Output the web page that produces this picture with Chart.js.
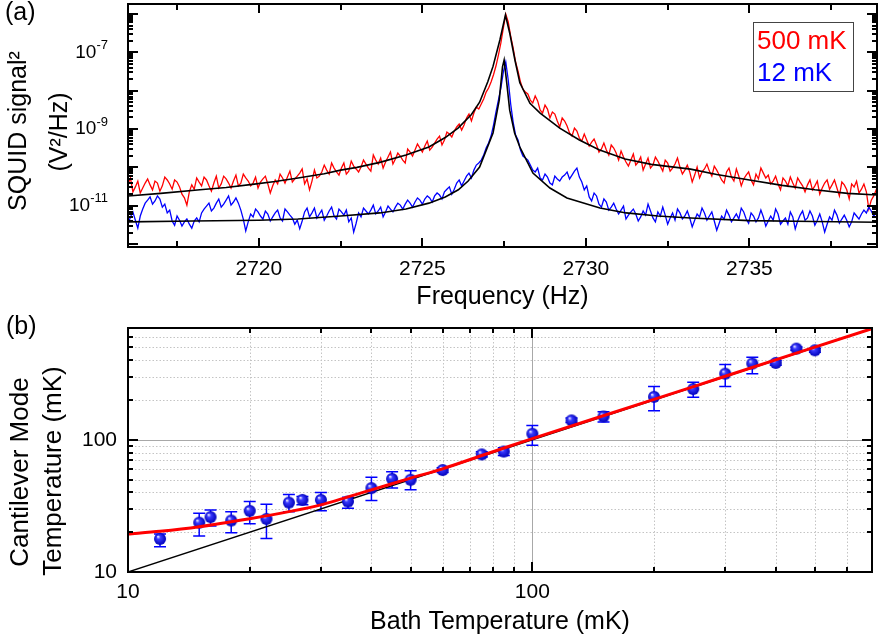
<!DOCTYPE html>
<html>
<head>
<meta charset="utf-8">
<script src="https://cdn.jsdelivr.net/npm/chart.js@4.4.1/dist/chart.umd.min.js"></script>
<style>
  body { margin: 0; background: #fff; }
  #topBox { position: absolute; left: 0; top: 0; width: 879px; height: 312px; }
  #botBox { position: absolute; left: 0; top: 312px; width: 879px; height: 329px; }
</style>
</head>
<body>
<div id="topBox"><canvas id="specChart"></canvas></div>
<div id="botBox"><canvas id="tempChart"></canvas></div>
<script>
/*------------------------------------------ PANEL (a) DATA ------------------------------------------*/
const specFreq = [
  2716, 2716.075, 2716.15, 2716.225, 2716.3, 2716.375, 2716.45, 2716.525, 2716.6, 2716.675,
  2716.75, 2716.825, 2716.9, 2716.975, 2717.05, 2717.125, 2717.2, 2717.275, 2717.35, 2717.425,
  2717.5, 2717.575, 2717.65, 2717.725, 2717.8, 2717.875, 2717.95, 2718.025, 2718.1, 2718.175,
  2718.25, 2718.325, 2718.4, 2718.475, 2718.55, 2718.625, 2718.7, 2718.775, 2718.85, 2718.925,
  2719, 2719.075, 2719.15, 2719.225, 2719.3, 2719.375, 2719.45, 2719.525, 2719.6, 2719.675,
  2719.75, 2719.825, 2719.9, 2719.975, 2720.05, 2720.125, 2720.2, 2720.275, 2720.35, 2720.425,
  2720.5, 2720.575, 2720.65, 2720.725, 2720.8, 2720.875, 2720.95, 2721.025, 2721.1, 2721.175,
  2721.25, 2721.325, 2721.4, 2721.475, 2721.55, 2721.625, 2721.7, 2721.775, 2721.85, 2721.925,
  2722, 2722.075, 2722.15, 2722.225, 2722.3, 2722.375, 2722.45, 2722.525, 2722.6, 2722.675,
  2722.75, 2722.825, 2722.9, 2722.975, 2723.05, 2723.125, 2723.2, 2723.275, 2723.35, 2723.425,
  2723.5, 2723.575, 2723.65, 2723.725, 2723.8, 2723.875, 2723.95, 2724.025, 2724.1, 2724.175,
  2724.25, 2724.325, 2724.4, 2724.475, 2724.55, 2724.625, 2724.7, 2724.775, 2724.85, 2724.925,
  2725, 2725.075, 2725.15, 2725.225, 2725.3, 2725.375, 2725.45, 2725.525, 2725.6, 2725.675,
  2725.75, 2725.825, 2725.9, 2725.975, 2726.05, 2726.125, 2726.2, 2726.275, 2726.35, 2726.425,
  2726.5, 2726.575, 2726.65, 2726.725, 2726.8, 2726.875, 2726.95, 2727.025, 2727.1, 2727.175,
  2727.25, 2727.325, 2727.4, 2727.475, 2727.55, 2727.625, 2727.7, 2727.775, 2727.85, 2727.925,
  2728, 2728.075, 2728.15, 2728.225, 2728.3, 2728.375, 2728.45, 2728.525, 2728.6, 2728.675,
  2728.75, 2728.825, 2728.9, 2728.975, 2729.05, 2729.125, 2729.2, 2729.275, 2729.35, 2729.425,
  2729.5, 2729.575, 2729.65, 2729.725, 2729.8, 2729.875, 2729.95, 2730.025, 2730.1, 2730.175,
  2730.25, 2730.325, 2730.4, 2730.475, 2730.55, 2730.625, 2730.7, 2730.775, 2730.85, 2730.925,
  2731, 2731.075, 2731.15, 2731.225, 2731.3, 2731.375, 2731.45, 2731.525, 2731.6, 2731.675,
  2731.75, 2731.825, 2731.9, 2731.975, 2732.05, 2732.125, 2732.2, 2732.275, 2732.35, 2732.425,
  2732.5, 2732.575, 2732.65, 2732.725, 2732.8, 2732.875, 2732.95, 2733.025, 2733.1, 2733.175,
  2733.25, 2733.325, 2733.4, 2733.475, 2733.55, 2733.625, 2733.7, 2733.775, 2733.85, 2733.925,
  2734, 2734.075, 2734.15, 2734.225, 2734.3, 2734.375, 2734.45, 2734.525, 2734.6, 2734.675,
  2734.75, 2734.825, 2734.9, 2734.975, 2735.05, 2735.125, 2735.2, 2735.275, 2735.35, 2735.425,
  2735.5, 2735.575, 2735.65, 2735.725, 2735.8, 2735.875, 2735.95, 2736.025, 2736.1, 2736.175,
  2736.25, 2736.325, 2736.4, 2736.475, 2736.55, 2736.625, 2736.7, 2736.775, 2736.85, 2736.925,
  2737, 2737.075, 2737.15, 2737.225, 2737.3, 2737.375, 2737.45, 2737.525, 2737.6, 2737.675,
  2737.75, 2737.825, 2737.9, 2737.975, 2738.05, 2738.125, 2738.2, 2738.275, 2738.35, 2738.425,
  2738.5, 2738.575, 2738.65, 2738.725, 2738.8, 2738.875, 2738.95
];

// 500 mK trace (V^2/Hz)
const sig500mK = [
  3.7e-11, 5.3e-11, 2.3e-11, 3.1e-11, 4.4e-11, 2.15e-11, 2.9e-11, 3.9e-11, 5.0e-11, 3.5e-11,
  2.6e-11, 4.4e-11, 3.9e-11, 2.4e-11, 3.3e-11, 5.6e-11, 4.7e-11, 3.7e-11, 2.7e-11, 4.7e-11,
  4.15e-11, 3.1e-11, 2.0e-11, 1.6e-11, 1.04e-11, 2.3e-11, 3.5e-11, 2.7e-11, 5.3e-11, 4.15e-11,
  3.3e-11, 5.6e-11, 4.7e-11, 3.3e-11, 2.4e-11, 3.9e-11, 5.9e-11, 2.9e-11, 3.7e-11, 5.9e-11,
  5.0e-11, 3.9e-11, 2.9e-11, 4.4e-11, 6.3e-11, 3.3e-11, 3.9e-11, 6.7e-11, 5.3e-11, 4.4e-11,
  3.3e-11, 3.9e-11, 5.6e-11, 2.9e-11, 4.15e-11, 5.0e-11, 5.9e-11, 3.7e-11, 2.15e-11, 3.3e-11,
  4.7e-11, 3.7e-11, 6.7e-11, 5.3e-11, 3.9e-11, 5.6e-11, 8.0e-11, 4.15e-11, 5.0e-11, 5.9e-11,
  7.1e-11, 9.1e-11, 3.7e-11, 5.0e-11, 2.6e-11, 4.4e-11, 8.5e-11, 5.3e-11, 5.9e-11, 7.6e-11,
  1.15e-10, 8.5e-11, 6.7e-11, 1.30e-10, 9.6e-11, 7.6e-11, 6.3e-11, 9.6e-11, 1.30e-10, 6.7e-11,
  8.0e-11, 1.46e-10, 1.08e-10, 9.1e-11, 7.6e-11, 1.02e-10, 1.55e-10, 1.22e-10, 9.6e-11, 8.0e-11,
  2.10e-10, 1.55e-10, 1.22e-10, 1.75e-10, 9.6e-11, 1.38e-10, 1.86e-10, 2.51e-10, 1.22e-10, 1.65e-10,
  2.37e-10, 1.98e-10, 1.55e-10, 1.30e-10, 3.01e-10, 2.51e-10, 1.98e-10, 2.83e-10, 4.06e-10, 3.20e-10,
  2.51e-10, 3.60e-10, 4.86e-10, 2.83e-10, 3.39e-10, 4.31e-10, 5.48e-10, 6.57e-10, 3.83e-10, 5.2e-10,
  8.35e-10, 7.41e-10, 6.19e-10, 8.87e-10, 1.13e-9, 1.35e-9, 9.4e-10, 1.27e-9, 1.94e-9, 2.46e-9,
  1.62e-9, 2.61e-9, 3.75e-9, 3.32e-9, 4.49e-9, 6.06e-9, 9.2e-9, 1.17e-8, 1.68e-8, 2.6e-8,
  4.39e-8, 8.5e-8, 1.75e-7, 4.3e-7, 9.9e-7, 6.2e-7, 2.66e-7, 1.3e-7, 5.59e-8, 3.25e-8,
  1.68e-8, 1.1e-8, 9.2e-9, 8.2e-9, 5.7e-9, 4.76e-9, 7.25e-9, 5.4e-9, 3.13e-9, 2.61e-9,
  4.22e-9, 3.32e-9, 1.94e-9, 2.78e-9, 2.46e-9, 1.62e-9, 1.13e-9, 1.94e-9, 1.62e-9, 1.2e-9,
  7.87e-10, 6.57e-10, 1.06e-9, 8.87e-10, 5.82e-10, 4.86e-10, 7.41e-10, 5.2e-10, 3.60e-10, 4.58e-10,
  5.48e-10, 3.83e-10, 2.51e-10, 3.01e-10, 4.31e-10, 2.83e-10, 2.10e-10, 3.83e-10, 3.20e-10, 2.37e-10,
  1.55e-10, 2.67e-10, 1.86e-10, 1.38e-10, 1.08e-10, 1.55e-10, 2.23e-10, 1.15e-10, 1.38e-10, 1.86e-10,
  8.5e-11, 1.22e-10, 1.75e-10, 9.6e-11, 1.15e-10, 1.86e-10, 1.46e-10, 1.08e-10, 8.0e-11, 1.55e-10,
  1.30e-10, 8.0e-11, 9.6e-11, 1.22e-10, 1.75e-10, 1.02e-10, 6.7e-11, 8.5e-11, 1.15e-10, 7.6e-11,
  4.15e-11, 6.3e-11, 1.02e-10, 5.3e-11, 7.6e-11, 9.1e-11, 1.22e-10, 8.0e-11, 5.9e-11, 1.08e-10,
  8.5e-11, 6.3e-11, 4.7e-11, 3.9e-11, 7.6e-11, 9.6e-11, 5.6e-11, 4.4e-11, 9.1e-11, 5.9e-11,
  3.3e-11, 5.0e-11, 6.3e-11, 7.6e-11, 4.7e-11, 3.5e-11, 6.7e-11, 5.0e-11, 9.6e-11, 7.1e-11,
  5.3e-11, 6.3e-11, 3.7e-11, 4.4e-11, 5.9e-11, 3.7e-11, 2.6e-11, 5.3e-11, 4.4e-11, 3.3e-11,
  5.6e-11, 3.9e-11, 2.9e-11, 5.3e-11, 4.15e-11, 3.3e-11, 2.3e-11, 3.5e-11, 4.7e-11, 2.6e-11,
  3.3e-11, 4.4e-11, 2.0e-11, 2.9e-11, 3.9e-11, 4.7e-11, 2.7e-11, 3.5e-11, 4.7e-11, 2.9e-11,
  1.8e-11, 4.15e-11, 3.5e-11, 2.6e-11, 1.5e-11, 3.7e-11, 3.1e-11, 4.4e-11, 2.15e-11, 2.7e-11,
  3.7e-11, 2.3e-11, 8.2e-12, 1.4e-11, 1.8e-11, 2.6e-11, 1.25e-11
];

// 12 mK trace (V^2/Hz)
const sig12mK = [
  3.3e-12, 5.1e-12, 6.9e-12, 4.2e-12, 2.6e-12, 5.4e-12, 8.2e-12, 1.17e-11, 1.4e-11, 1.7e-11,
  1.1e-11, 1.33e-11, 1.8e-11, 1.5e-11, 9.2e-12, 1.1e-11, 6.5e-12, 7.7e-12, 4.0e-12, 3.1e-12,
  5.4e-12, 4.2e-12, 2.95e-12, 3.8e-12, 4.5e-12, 3.3e-12, 2.6e-12, 4.0e-12, 4.8e-12, 3.8e-12,
  6.5e-12, 8.2e-12, 9.8e-12, 1.17e-11, 7.3e-12, 8.7e-12, 1.17e-11, 1.5e-11, 9.2e-12, 1.1e-11,
  1.4e-11, 1.8e-11, 1.04e-11, 1.25e-11, 1.6e-11, 1.17e-11, 7.7e-12, 4.5e-12, 2.2e-12, 3.8e-12,
  6.1e-12, 5.1e-12, 8.2e-12, 6.9e-12, 5.4e-12, 4.5e-12, 7.3e-12, 6.1e-12, 4.0e-12, 5.1e-12,
  6.5e-12, 7.7e-12, 4.8e-12, 4.0e-12, 8.2e-12, 6.9e-12, 5.7e-12, 4.8e-12, 3.3e-12, 4.2e-12,
  2.5e-12, 4.0e-12, 6.9e-12, 8.7e-12, 5.1e-12, 6.5e-12, 8.7e-12, 4.8e-12, 6.1e-12, 7.7e-12,
  4.2e-12, 5.4e-12, 7.3e-12, 9.2e-12, 5.4e-12, 4.5e-12, 8.2e-12, 6.9e-12, 5.7e-12, 7.7e-12,
  3.8e-12, 4.8e-12, 2.06e-12, 3.5e-12, 6.5e-12, 5.1e-12, 8.7e-12, 7.3e-12, 6.1e-12, 7.7e-12,
  1.04e-11, 6.1e-12, 7.3e-12, 9.2e-12, 5.1e-12, 6.9e-12, 9.8e-12, 8.2e-12, 6.9e-12, 9.2e-12,
  1.17e-11, 1.04e-11, 8.2e-12, 1.1e-11, 1.4e-11, 1.17e-11, 9.2e-12, 1.25e-11, 1.6e-11, 1.4e-11,
  1.1e-11, 1.5e-11, 1.8e-11, 1.6e-11, 1.25e-11, 1.8e-11, 2.15e-11, 1.9e-11, 1.5e-11, 2.3e-11,
  2.7e-11, 3.1e-11, 2.0e-11, 2.7e-11, 3.9e-11, 4.7e-11, 3.3e-11, 4.4e-11, 5.9e-11, 7.1e-11,
  5.3e-11, 8.5e-11, 1.15e-10, 1.30e-10, 1.55e-10, 2.10e-10, 3.20e-10, 4.31e-10, 6.57e-10, 1.27e-9,
  2.78e-9, 5.7e-9, 1.17e-8, 3.06e-8, 5.59e-8, 1.9e-8, 4.49e-9, 1.52e-9, 6.97e-10, 5.2e-10,
  2.83e-10, 1.98e-10, 1.75e-10, 1.55e-10, 1.15e-10, 8.5e-11, 7.6e-11, 9.6e-11, 5.3e-11, 4.7e-11,
  6.7e-11, 5.6e-11, 3.9e-11, 3.5e-11, 5.9e-11, 5.0e-11, 4.4e-11, 5.6e-11, 6.3e-11, 7.6e-11,
  5.0e-11, 6.3e-11, 8.0e-11, 9.6e-11, 5.6e-11, 4.15e-11, 2.6e-11, 3.3e-11, 1.7e-11, 1.33e-11,
  2.15e-11, 1.8e-11, 1.1e-11, 9.2e-12, 1.5e-11, 1.25e-11, 7.7e-12, 9.2e-12, 1.17e-11, 8.2e-12,
  6.1e-12, 7.7e-12, 9.8e-12, 4.5e-12, 5.7e-12, 6.9e-12, 8.2e-12, 6.1e-12, 4.0e-12, 5.1e-12,
  7.3e-12, 5.7e-12, 1.1e-11, 7.3e-12, 4.8e-12, 3.8e-12, 6.9e-12, 5.4e-12, 9.2e-12, 5.7e-12,
  3.3e-12, 4.8e-12, 6.5e-12, 4.2e-12, 8.2e-12, 6.5e-12, 4.5e-12, 5.4e-12, 7.3e-12, 4.8e-12,
  2.8e-12, 4.2e-12, 6.1e-12, 5.1e-12, 8.7e-12, 6.5e-12, 4.2e-12, 5.4e-12, 6.9e-12, 4.0e-12,
  2.3e-12, 3.5e-12, 5.4e-12, 4.5e-12, 7.7e-12, 5.7e-12, 3.8e-12, 4.8e-12, 6.1e-12, 4.5e-12,
  8.7e-12, 6.9e-12, 4.5e-12, 3.5e-12, 6.5e-12, 5.4e-12, 3.8e-12, 4.8e-12, 7.7e-12, 5.1e-12,
  2.95e-12, 4.0e-12, 5.4e-12, 4.2e-12, 8.2e-12, 6.1e-12, 3.3e-12, 4.0e-12, 4.8e-12, 3.3e-12,
  6.9e-12, 5.1e-12, 2.5e-12, 4.0e-12, 5.7e-12, 7.3e-12, 4.2e-12, 4.8e-12, 7.3e-12, 5.4e-12,
  3.1e-12, 4.2e-12, 6.1e-12, 3.8e-12, 2.06e-12, 3.3e-12, 5.1e-12, 4.2e-12, 7.7e-12, 5.7e-12,
  3.5e-12, 4.5e-12, 5.7e-12, 4.2e-12, 2.8e-12, 3.8e-12, 6.5e-12, 5.4e-12, 4.5e-12, 6.1e-12,
  7.7e-12, 6.5e-12, 9.2e-12, 7.3e-12, 5.4e-12, 6.5e-12, 8.2e-12
];

// black fit curves
const fitFreq500mK = [2716, 2717, 2718.2, 2719, 2719.8, 2720.5, 2721.2, 2722, 2722.5, 2723,
  2723.7, 2724.5, 2725.2, 2725.7, 2726.1, 2726.5, 2726.75, 2727, 2727.16, 2727.37,
  2727.54, 2727.67, 2727.83, 2727.98, 2728.29, 2728.6, 2729.2, 2729.8, 2730.4, 2731.2,
  2732, 2733.2, 2734, 2735, 2736, 2737, 2738, 2738.9];
const fit500mK = [1.8e-11, 2.1e-11, 2.6e-11, 3.0e-11, 3.6e-11, 4.3e-11, 5.3e-11, 6.8e-11, 8.5e-11, 1.0e-10,
  1.35e-10, 2.1e-10, 3.4e-10, 6.0e-10, 1.07e-9, 2.4e-9, 5.0e-9, 1.7e-8, 4.3e-8, 2.1e-7,
  9.4e-7, 3.2e-7, 6.3e-8, 1.6e-8, 4.7e-9, 2.6e-9, 1.06e-9, 5.2e-10, 2.9e-10, 1.65e-10,
  1.2e-10, 9.0e-11, 6.5e-11, 4.7e-11, 3.4e-11, 2.6e-11, 2.1e-11, 1.9e-11];
const fitFreq12mK = [2716, 2718, 2720, 2721.2, 2722.5, 2723.7, 2724.5, 2725.2, 2725.7, 2726.1,
  2726.4, 2726.75, 2727.16, 2727.35, 2727.45, 2727.5, 2727.58, 2727.67, 2727.82, 2727.98,
  2728.38, 2728.9, 2729.42, 2730.43, 2731.23, 2732.2, 2733.2, 2735, 2737, 2738.9];
const fit12mK = [3.8e-12, 4.0e-12, 4.2e-12, 4.5e-12, 5.4e-12, 6.5e-12, 8.2e-12, 1.17e-11, 1.7e-11, 2.6e-11,
  4.4e-11, 1.02e-10, 7.9e-10, 5.7e-9, 4.2e-8, 6.3e-8, 1.6e-8, 3.1e-9, 7.9e-10, 3.4e-10,
  7.1e-11, 2.9e-11, 1.6e-11, 8.7e-12, 6.5e-12, 5.4e-12, 4.8e-12, 4.1e-12, 3.9e-12, 3.7e-12];

const specXTicks = [2720, 2725, 2730, 2735];
const specXMinor = [2717.5, 2722.5, 2727.5, 2732.5, 2737.5];
const specYTicks = [1e-11, 1e-9, 1e-7];
const specYExp = ["-11", "-9", "-7"];

/*------------------------------------------ PANEL (b) DATA ------------------------------------------*/
const bathT = [12, 15, 16, 18, 20, 22, 25, 27, 30, 35, 40, 45, 50, 60, 75, 85, 100, 125, 150, 200, 250, 300, 350, 400, 450, 500];
const modeT = [17.8, 23.6, 26.0, 24.5, 29.0, 25.2, 33.5, 35.1, 35.1, 34.1, 43.1, 50.6, 49.8, 59.0, 77.5, 81.5, 111, 140, 150, 211, 242, 316, 377, 381, 489, 475];
const modeTLow = [15.5, 18.7, 22.3, 19.8, 23.2, 17.9, 28.6, 32.2, 29.0, 30.4, 34.7, 43.1, 41.8, 56.5, 74, 76, 91, 135, 136, 166, 210, 253, 316, 366, 476, 458];
const modeTHigh = [19.4, 27.8, 29.4, 28.5, 34.1, 32.5, 38.5, 37.2, 39.9, 36.8, 52.1, 57.2, 58.2, 61.5, 81, 87, 128, 146, 163, 253, 272, 370, 420, 398, 503, 493];

const fitBathT = [10, 12, 15, 20, 25, 30, 40, 50, 60, 75, 100, 200, 300, 692];
const fitModeT = [19.4, 20.3, 22.0, 25.3, 28.6, 32.2, 41.8, 51.3, 60.3, 76, 102, 202, 302, 693];
const idealBathT = [10, 692];
const idealModeT = [10, 692];

const tempTicks = [10, 100];
const tempMinor = [20, 30, 40, 50, 60, 70, 80, 90, 200, 300, 400, 500, 600];

/*------------------------------------------ HELPERS ------------------------------------------*/
const FONT = '"Liberation Sans", Arial, sans-serif';
Chart.defaults.font.family = FONT;
Chart.defaults.color = "#000";

function toXY(xs, ys) {
  return xs.map((x, i) => ({ x: x, y: ys[i] }));
}

function vText(ctx, text, cx, cy, size, color) {
  ctx.save();
  ctx.translate(cx, cy);
  ctx.rotate(-Math.PI / 2);
  ctx.font = size + "px " + FONT;
  ctx.fillStyle = color || "#000";
  ctx.textAlign = "center";
  ctx.textBaseline = "middle";
  ctx.fillText(text, 0, 0);
  ctx.restore();
}

// keep the plot box where it is, whatever the label sizes
function fixBox(s, w, h) {
  if (w) s.width = w;
  if (h) s.height = h;
  s.paddingTop = 0;
  s.paddingBottom = 0;
  s.paddingLeft = 0;
  s.paddingRight = 0;
}

// inward tick marks on all four sides + box
const framePlugin = {
  id: "frame",
  afterDatasetsDraw(chart, args, opts) {
    const ctx = chart.ctx;
    const a = chart.chartArea;
    const x = chart.scales.x, y = chart.scales.y;
    ctx.save();
    ctx.strokeStyle = "#000";
    ctx.lineWidth = 2;
    ctx.beginPath();
    opts.xMarks.forEach(([v, len]) => {
      const p = Math.round(x.getPixelForValue(v));
      if (p <= a.left + 1 || p >= a.right - 1) return;
      ctx.moveTo(p, a.bottom); ctx.lineTo(p, a.bottom - len);
      ctx.moveTo(p, a.top); ctx.lineTo(p, a.top + len);
    });
    opts.yMarks.forEach(([v, len]) => {
      const p = Math.round(y.getPixelForValue(v));
      if (p <= a.top + 1 || p >= a.bottom - 1) return;
      ctx.moveTo(a.left, p); ctx.lineTo(a.left + len, p);
      ctx.moveTo(a.right, p); ctx.lineTo(a.right - len, p);
    });
    ctx.stroke();
    ctx.strokeRect(a.left, a.top, a.right - a.left, a.bottom - a.top);
    ctx.restore();
  }
};

/*------------------------------------------ PANEL (a) ------------------------------------------*/
const specYMinor = [];
for (let e = -13; e <= -6; e++) {
  for (let m = 2; m <= 9; m++) specYMinor.push(m * Math.pow(10, e));
}
const specYMajor = [];
for (let e = -12; e <= -6; e++) specYMajor.push(Math.pow(10, e));

const specDecor = {
  id: "specDecor",
  afterDraw(chart) {
    const ctx = chart.ctx;
    const y = chart.scales.y;
    ctx.save();
    // y tick labels with superscript exponents
    specYTicks.forEach((v, i) => {
      const py = y.getPixelForValue(v);
      ctx.font = "13px " + FONT;
      const supW = ctx.measureText(specYExp[i]).width;
      ctx.textAlign = "right";
      ctx.textBaseline = "middle";
      ctx.fillStyle = "#000";
      ctx.fillText(specYExp[i], 108, py - 7);
      ctx.font = "19px " + FONT;
      ctx.fillText("10", 108 - supW, py);
    });
    ctx.restore();

    vText(ctx, "SQUID signal\u00B2", 19, 131, 25);
    vText(ctx, "(V\u00B2/Hz)", 60, 132, 25);

    ctx.save();
    ctx.font = "25px " + FONT;
    ctx.fillStyle = "#000";
    ctx.textAlign = "left";
    ctx.textBaseline = "middle";
    ctx.fillText("(a)", 5, 13);

    // legend box
    ctx.strokeStyle = "#444";
    ctx.lineWidth = 1;
    ctx.strokeRect(753.5, 22.5, 100, 69);
    ctx.font = "26px " + FONT;
    ctx.fillStyle = "#ff0000";
    ctx.fillText("500 mK", 757, 42);
    ctx.fillStyle = "#0000ff";
    ctx.fillText("12 mK", 757, 74);
    ctx.restore();
  }
};

new Chart(document.getElementById("specChart"), {
  type: "line",
  data: {
    datasets: [
      { data: toXY(fitFreq12mK, fit12mK), borderColor: "#000", borderWidth: 1.6, pointRadius: 0 },
      { data: toXY(fitFreq500mK, fit500mK), borderColor: "#000", borderWidth: 1.6, pointRadius: 0 },
      { data: toXY(specFreq, sig12mK), borderColor: "#0000ff", borderWidth: 1.3, pointRadius: 0 },
      { data: toXY(specFreq, sig500mK), borderColor: "#ff0000", borderWidth: 1.3, pointRadius: 0 },
    ],
  },
  options: {
    responsive: true,
    maintainAspectRatio: false,
    animation: false,
    devicePixelRatio: 1,
    layout: { padding: { left: 0, right: 2, top: 4, bottom: 0 } },
    plugins: {
      legend: { display: false },
      tooltip: { enabled: false },
      frame: {
        xMarks: specXTicks.map(v => [v, 9]).concat(specXMinor.map(v => [v, 6])),
        yMarks: specYMajor.map(v => [v, 10]).concat(specYMinor.map(v => [v, 5])),
      },
    },
    scales: {
      x: {
        type: "linear",
        min: 2716,
        max: 2738.9,
        grid: { display: false, drawTicks: false },
        border: { display: false },
        afterBuildTicks: (s) => { s.ticks = specXTicks.map(v => ({ value: v })); },
        afterFit: (s) => fixBox(s, 0, 65),
        ticks: { padding: 10, autoSkip: false, maxRotation: 0, font: { size: 21 }, callback: (v) => String(v) },
        title: { display: true, text: "Frequency (Hz)", font: { size: 25 }, padding: { top: 0, bottom: 0 } },
      },
      y: {
        type: "logarithmic",
        min: 8.4e-13,
        max: 1.82e-6,
        grid: { display: false, drawTicks: false },
        border: { display: false },
        afterFit: (s) => fixBox(s, 128, 0),
        ticks: { display: false },
      },
    },
  },
  plugins: [framePlugin, specDecor],
});

/*------------------------------------------ PANEL (b) ------------------------------------------*/
function makeBall(r) {
  const c = document.createElement("canvas");
  c.width = c.height = 2 * r + 2;
  const g = c.getContext("2d");
  const cx = r + 1, cy = r + 1;
  const grad = g.createRadialGradient(cx - r * 0.35, cy - r * 0.4, r * 0.05, cx, cy, r);
  grad.addColorStop(0, "#f0f0ff");
  grad.addColorStop(0.3, "#3a3aff");
  grad.addColorStop(1, "#0000b8");
  g.fillStyle = grad;
  g.beginPath();
  g.arc(cx, cy, r, 0, Math.PI * 2);
  g.fill();
  return c;
}

const tempGrid = {
  id: "tempGrid",
  beforeDatasetsDraw(chart) {
    const ctx = chart.ctx;
    const a = chart.chartArea;
    const x = chart.scales.x, y = chart.scales.y;
    ctx.save();
    ctx.lineWidth = 1;
    ctx.strokeStyle = "#c4c4c4";
    ctx.setLineDash([1.5, 2]);
    ctx.beginPath();
    tempMinor.forEach(v => {
      const px = Math.round(x.getPixelForValue(v)) + 0.5;
      if (px < a.right) { ctx.moveTo(px, a.top); ctx.lineTo(px, a.bottom); }
      const py = Math.round(y.getPixelForValue(v)) + 0.5;
      if (py > a.top) { ctx.moveTo(a.left, py); ctx.lineTo(a.right, py); }
    });
    ctx.stroke();
    ctx.setLineDash([]);
    ctx.strokeStyle = "#a8a8a8";
    ctx.beginPath();
    const p100x = Math.round(x.getPixelForValue(100)) + 0.5;
    const p100y = Math.round(y.getPixelForValue(100)) + 0.5;
    ctx.moveTo(p100x, a.top); ctx.lineTo(p100x, a.bottom);
    ctx.moveTo(a.left, p100y); ctx.lineTo(a.right, p100y);
    ctx.stroke();

    // error bars
    ctx.strokeStyle = "#0000ff";
    ctx.lineWidth = 1.5;
    ctx.beginPath();
    bathT.forEach((t, i) => {
      const px = x.getPixelForValue(t);
      const top = y.getPixelForValue(modeTHigh[i]);
      const bot = y.getPixelForValue(modeTLow[i]);
      ctx.moveTo(px, top); ctx.lineTo(px, bot);
      ctx.moveTo(px - 6, top); ctx.lineTo(px + 6, top);
      ctx.moveTo(px - 6, bot); ctx.lineTo(px + 6, bot);
    });
    ctx.stroke();
    ctx.restore();
  }
};

const tempDecor = {
  id: "tempDecor",
  afterDraw(chart) {
    const ctx = chart.ctx;
    vText(ctx, "Cantilever Mode", 21, 160, 26);
    vText(ctx, "Temperature (mK)", 54, 159, 26);
    ctx.save();
    ctx.font = "25px " + FONT;
    ctx.fillStyle = "#000";
    ctx.textAlign = "left";
    ctx.textBaseline = "middle";
    ctx.fillText("(b)", 6, 15);
    ctx.restore();
  }
};

new Chart(document.getElementById("tempChart"), {
  type: "scatter",
  data: {
    datasets: [
      { type: "line", data: toXY(fitBathT, fitModeT), borderColor: "#ff0000", borderWidth: 3, pointRadius: 0, tension: 0.3 },
      { data: toXY(bathT, modeT), pointStyle: makeBall(6), pointRadius: 6 },
      { type: "line", data: toXY(idealBathT, idealModeT), borderColor: "#000", borderWidth: 1.4, pointRadius: 0 },
    ],
  },
  options: {
    responsive: true,
    maintainAspectRatio: false,
    animation: false,
    devicePixelRatio: 1,
    layout: { padding: { left: 0, right: 1, top: 16, bottom: 0 } },
    plugins: {
      legend: { display: false },
      tooltip: { enabled: false },
      frame: {
        xMarks: tempTicks.map(v => [v, 10]).concat(tempMinor.map(v => [v, 5])),
        yMarks: tempTicks.map(v => [v, 10]).concat(tempMinor.map(v => [v, 5])),
      },
    },
    scales: {
      x: {
        type: "logarithmic",
        min: 10,
        max: 692,
        grid: { display: false, drawTicks: false },
        border: { display: false },
        afterBuildTicks: (s) => { s.ticks = tempTicks.map(v => ({ value: v })); },
        afterFit: (s) => fixBox(s, 0, 69),
        ticks: { padding: 8, autoSkip: false, maxRotation: 0, font: { size: 21 }, callback: (v) => String(v) },
        title: { display: true, text: "Bath Temperature (mK)", font: { size: 25 }, padding: { top: 0, bottom: 4 } },
      },
      y: {
        type: "logarithmic",
        min: 10,
        max: 700,
        grid: { display: false, drawTicks: false },
        border: { display: false },
        afterBuildTicks: (s) => { s.ticks = tempTicks.map(v => ({ value: v })); },
        afterFit: (s) => fixBox(s, 128, 0),
        ticks: { padding: 11, autoSkip: false, font: { size: 21 }, callback: (v) => String(v) },
      },
    },
  },
  plugins: [tempGrid, framePlugin, tempDecor],
});
</script>
</body>
</html>
